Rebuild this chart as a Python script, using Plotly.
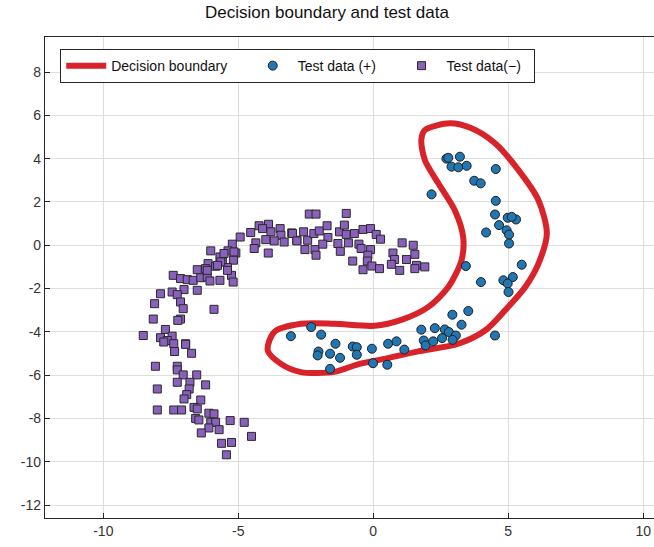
import plotly.graph_objects as go

# Decision boundary (closed curve)
boundary_x = [1.91, 2.84, 3.64, 4.51, 5.38, 6.12, 6.43, 6.12, 5.63, 4.88, 4.14, 3.15, 1.66, 0.42, -0.57,
              -1.44, -2.68, -3.42, -3.91, -3.67, -2.68, -1.44, 0.05, 1.04, 2.03, 2.78, 3.27, 3.33, 3.02,
              2.41, 1.91, 1.78, 1.91]
boundary_y = [5.32, 5.63, 5.40, 4.71, 3.47, 2.08, 0.54, -0.85, -1.93, -3.01, -3.94, -4.55, -4.90, -5.25, -5.50,
              -5.85, -5.86, -5.48, -4.86, -4.01, -3.63, -3.63, -3.72, -3.45, -2.86, -1.93, -0.69, 0.38, 1.62,
              2.86, 3.94, 4.86, 5.32]

# Test data (+)
pos_x = [2.71, 2.78, 3.21, 2.90, 3.15, 3.46, 4.54, 3.74, 3.98, 2.16, 4.54, 4.51, 4.98, 5.29, 5.13, 4.66, 4.94,
         5.03, 4.18, 5.03,
         3.43, 5.50, 3.99, 4.82, 5.17, 4.98, 5.01, 2.93, 3.52, 3.27, 1.78, 2.28, 2.65, 2.80, 3.06, 1.87, 1.94,
         2.22, 2.55, 2.94, 4.51, 1.15,
         -3.05, -2.30, -1.93, -1.40, -2.03, -2.06, -1.60, -1.23, -1.60, -0.76, -0.61, -0.61, -0.05, -0.01,
         0.55, 0.86, 0.52]
pos_y = [4.00, 4.04, 4.09, 3.63, 3.60, 3.67, 3.52, 2.98, 2.86, 2.35, 2.05, 1.42, 1.27, 1.19, 1.31, 0.93, 0.69,
         0.49, 0.59, 0.08,
         -0.96, -0.90, -1.70, -1.62, -1.47, -1.77, -2.16, -3.21, -3.04, -3.67, -3.90, -3.83, -3.89, -4.01, -4.17,
         -4.40, -4.63, -4.44, -4.29, -4.37, -4.17, -4.82,
         -4.20, -3.78, -4.13, -4.55, -4.91, -5.09, -5.01, -5.20, -5.71, -4.68, -4.71, -5.06, -4.78, -5.45,
         -4.55, -4.44, -5.52]

# Test data (-)
neg_x = [-6.02, -5.22, -5.38, -5.09, -5.68, -5.59, -5.18, -6.12, -5.84, -5.40, -6.52, -6.21, -5.25, -7.41,
         -7.14, -6.89, -6.67, -6.39, -6.15, -6.05, -5.68, -5.19, -7.45, -7.01, -7.26, -7.14, -6.52, -7.88,
         -8.10, -7.04, -5.90, -8.15, -7.14, -7.24, -8.52, -7.70, -7.88, -7.45, -7.63, -6.95, -7.39,
         -4.93, -4.54, -4.23, -3.88, -4.10, -3.79, -3.45, -3.42, -3.02, -2.83, -3.30, -3.67, -3.98, -4.35,
         -4.41, -3.89, -5.53, -5.16, -5.65, -6.15, -5.77, -5.40,
         -2.37, -2.12, -1.00, -2.99, -2.58, -2.83, -2.43, -2.20, -2.00, -1.71, -1.68, -2.53, -2.16, -2.12,
         -1.87, -1.31, -1.25, -1.07, -1.00, -0.70, -0.92, -1.22, -0.53, -0.38, -0.10, 0.11, 0.27, -0.45,
         -0.10, -0.20, -0.76, -0.22, -0.05, -0.38, 0.23, 1.07, 1.48, 0.73, 0.79, 1.23, 1.54, 0.67, 0.98,
         1.60, 1.91, 1.54,
         -7.76, -6.95, -7.36, -6.73, -8.07, -7.26, -7.26, -7.04, -6.54, -7.26, -6.79, -6.21, -8.00, -6.82,
         -6.91, -7.01, -6.39, -8.00, -7.39, -7.10, -6.64, -6.52, -6.09, -6.58, -6.46, -5.90, -6.02, -5.84,
         -6.09, -5.71, -6.37, -5.30, -4.78, -4.51, -5.62, -5.25, -5.44]
neg_y = [-0.26, 0.05, -0.26, -0.36, -0.54, -0.77, -0.69, -0.85, -0.97, -1.03, -1.13, -1.08, -1.39, -1.39,
         -1.54, -1.59, -1.62, -1.50, -1.47, -1.65, -1.62, -1.70, -2.16, -2.05, -2.28, -2.62, -2.08, -2.24,
         -2.70, -2.93, -2.96, -3.41, -3.41, -3.47, -4.17, -3.89, -4.27, -4.20, -4.40, -4.55, -4.55,
         0.38, 0.59, 0.90, 0.97, 0.77, 0.62, 0.77, 0.46, 0.57, 0.23, 0.15, 0.20, 0.26, 0.11,
         -0.15, -0.36, -0.38, -0.31, -0.77, -1.16, -0.93, -1.16,
         1.44, 1.44, 1.47, 0.54, 0.62, 0.20, 0.23, 0.54, 0.66, 0.90, 0.36, -0.20, -0.20, -0.46,
         0.05, 0.08, 0.62, 0.93, 0.50, 0.54, 0.11, -0.28, 0.05, 0.73, 0.77, 0.50, 0.28, -0.15,
         -0.20, -0.46, -0.73, -0.73, -0.96, -1.13, -1.08, 0.11, 0.00, -0.36, -0.66, -0.66, -0.42, -0.88, -1.16,
         -0.93, -1.00, -1.08,
         -4.47, -4.58, -4.91, -4.99, -5.59, -5.59, -5.76, -5.99, -5.99, -6.33, -6.33, -6.45, -6.64, -6.64,
         -6.90, -7.10, -7.15, -7.61, -7.61, -7.61, -7.49, -7.56, -7.76, -8.00, -8.07, -7.79, -8.18, -8.18,
         -8.44, -8.52, -8.67, -8.10, -8.18, -8.83, -9.15, -9.11, -9.68]

x_ticks = [-10, -5, 0, 5, 10]
x_ticklabels = ["-10", "-5", "0", "5", "10"]
y_ticks = [-12, -10, -8, -6, -4, -2, 0, 2, 4, 6, 8]
y_ticklabels = ["-12", "-10", "-8", "-6", "-4", "-2", "0", "2", "4", "6", "8"]

FONT = "Liberation Sans, Arial, sans-serif"
NB = "\u00a0"

fig = go.Figure()
fig.add_trace(go.Scatter(x=boundary_x, y=boundary_y, mode="lines", name="Decision boundary" + NB * 4,
                         line=dict(color="#d8232a", width=6, shape="spline", smoothing=0.8)))
fig.add_trace(go.Scatter(x=pos_x, y=pos_y, mode="markers", name="Test data (+)" + NB * 4,
                         marker=dict(symbol="circle", size=9, color="#2177b3",
                                     line=dict(color="#1e1e1e", width=1))))
fig.add_trace(go.Scatter(x=neg_x, y=neg_y, mode="markers", name="Test data(\u2212)" + NB * 2,
                         marker=dict(symbol="square", size=8, color="#8a60bd",
                                     line=dict(color="#2a2a2a", width=1))))

axis_common = dict(showgrid=True, gridcolor="#dedede", gridwidth=1, zeroline=False,
                   showline=True, linecolor="#262626", linewidth=1.2,
                   ticks="inside", ticklen=5, tickcolor="#262626",
                   tickfont=dict(family=FONT, size=14, color="#333333"))

fig.update_layout(
    width=654, height=547,
    margin=dict(l=45, r=0, t=37, b=29),
    paper_bgcolor="white", plot_bgcolor="white",
    title=dict(text="Decision boundary and test data", x=0.5, xanchor="center",
               y=0.988, yanchor="top",
               font=dict(family=FONT, size=17, color="#111111")),
    xaxis=dict(range=[-12.16, 10.4], tickvals=x_ticks, ticktext=x_ticklabels, mirror=True, **axis_common),
    yaxis=dict(range=[-12.6, 9.62], tickvals=y_ticks, ticktext=y_ticklabels, mirror=False, **axis_common),
    legend=dict(orientation="h", x=0.025, y=0.975, xanchor="left", yanchor="top",
                bgcolor="white", bordercolor="#262626", borderwidth=1,
                font=dict(family=FONT, size=14, color="#111111"),
                itemwidth=40, tracegroupgap=0),
    showlegend=True,
)

fig.write_html("out.html")
